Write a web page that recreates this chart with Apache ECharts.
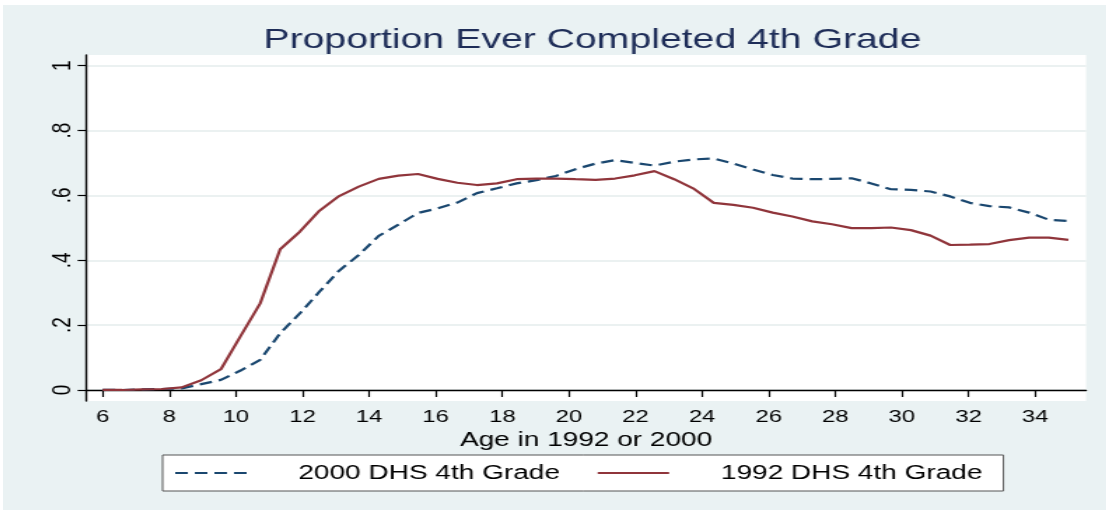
<!DOCTYPE html>
<html>
<head>
<meta charset="utf-8">
<title>Proportion Ever Completed 4th Grade</title>
<script src="https://cdn.jsdelivr.net/npm/echarts@6/dist/echarts.min.js"></script>
<style>
    body { margin: 0; background: #ffffff; }
    /* the reference graph is stretched sideways, so draw narrow and scale */
    #main { position: absolute; left: 3px; top: 5px; width: 788px; height: 505px;
            transform: scaleX(1.4); transform-origin: 0 0; }
</style>
</head>
<body>
<div id="main"></div>
<script type="text/javascript">
    // age of respondent (x)
    var ages = [6.00, 6.59, 7.18, 7.78, 8.37, 8.96, 9.55, 10.14, 10.73, 11.33,
                11.92, 12.51, 13.10, 13.69, 14.29, 14.88, 15.47, 16.06, 16.65, 17.24,
                17.84, 18.43, 19.02, 19.61, 20.20, 20.80, 21.39, 21.98, 22.57, 23.16,
                23.76, 24.35, 24.94, 25.53, 26.12, 26.71, 27.31, 27.90, 28.49, 29.08,
                29.67, 30.27, 30.86, 31.45, 32.04, 32.63, 33.22, 33.82, 34.41, 35.00];

    // 2000 DHS 4th Grade (dashed)
    var dhs2000 = [0.000, 0.000, 0.002, 0.003, 0.005, 0.018, 0.031, 0.060, 0.093, 0.175,
                   0.236, 0.303, 0.368, 0.416, 0.475, 0.510, 0.546, 0.560, 0.578, 0.607,
                   0.622, 0.637, 0.647, 0.660, 0.681, 0.698, 0.709, 0.700, 0.692, 0.704,
                   0.711, 0.714, 0.698, 0.680, 0.663, 0.652, 0.650, 0.651, 0.653, 0.637,
                   0.619, 0.617, 0.612, 0.597, 0.577, 0.567, 0.563, 0.547, 0.525, 0.521];

    // 1992 DHS 4th Grade (solid)
    var dhs1992 = [0.000, 0.000, 0.002, 0.003, 0.008, 0.030, 0.064, 0.166, 0.267, 0.434,
                   0.488, 0.553, 0.598, 0.627, 0.651, 0.661, 0.666, 0.651, 0.639, 0.632,
                   0.637, 0.650, 0.652, 0.652, 0.650, 0.648, 0.652, 0.662, 0.675, 0.650,
                   0.620, 0.577, 0.571, 0.562, 0.547, 0.535, 0.520, 0.511, 0.499, 0.499,
                   0.501, 0.493, 0.476, 0.447, 0.448, 0.450, 0.462, 0.470, 0.470, 0.463];

    var xTicks = [6, 8, 10, 12, 14, 16, 18, 20, 22, 24, 26, 28, 30, 32, 34];
    var yTicks = [0, 0.2, 0.4, 0.6, 0.8, 1];

    var font = 'Liberation Sans, Arial, sans-serif';

    function pairs(vals) {
        var out = [];
        for (var i = 0; i < ages.length; i++) {
            out.push([ages[i], vals[i]]);
        }
        return out;
    }

    var myChart = echarts.init(document.getElementById('main'));

    var option = {
        backgroundColor: '#eaf2f3',
        animation: false,
        title: {
            text: 'Proportion Ever Completed 4th Grade',
            left: 416, top: 16, textAlign: 'center',
            textStyle: { color: '#1e2d58', fontFamily: font, fontSize: 28, fontWeight: 'normal' }
        },
        legend: {
            left: 114, top: 450,
            backgroundColor: '#ffffff',
            borderColor: '#555555', borderWidth: 1,
            padding: [8, 15, 8, 8],
            itemWidth: 51, itemHeight: 14, itemGap: 26,
            itemStyle: { opacity: 0 },
            textStyle: { color: '#000000', fontFamily: font, fontSize: 20, padding: [0, 0, 0, 32] },
            data: ['2000 DHS 4th Grade', '1992 DHS 4th Grade']
        },
        grid: { left: 59.3, right: 14.4, top: 50, bottom: 109, containLabel: false,
                show: true, backgroundColor: '#ffffff', borderWidth: 0 },
        xAxis: {
            type: 'value', min: 5.5, max: 35.53,
            name: 'Age in 1992 or 2000', nameLocation: 'middle', nameGap: 29,
            nameTextStyle: { color: '#000000', fontFamily: font, fontSize: 20 },
            axisLine: { lineStyle: { color: '#000000', width: 1.4 } },
            axisTick: { customValues: xTicks, length: 7, lineStyle: { color: '#000000', width: 1.2 } },
            axisLabel: { customValues: xTicks, margin: 8, color: '#000000', fontFamily: font, fontSize: 17 },
            splitLine: { show: false }
        },
        yAxis: {
            type: 'value', min: -0.034, max: 1.033,
            axisLine: { show: true, lineStyle: { color: '#000000', width: 1.4 } },
            axisTick: { show: true, customValues: yTicks, length: 6, lineStyle: { color: '#000000', width: 1.2 } },
            axisLabel: {
                customValues: yTicks, rotate: 90, margin: 7,
                color: '#000000', fontFamily: font, fontSize: 19,
                formatter: function (v) { return String(v).replace(/^0\./, '.'); }
            },
            splitLine: { show: true, lineStyle: { color: '#e4eced', width: 1.5 } }
        },
        series: [
            {
                name: '2000 DHS 4th Grade', type: 'line', symbol: 'none',
                lineStyle: { color: '#1a476f', width: 2.2, type: [9, 5] },
                itemStyle: { color: '#1a476f' },
                data: pairs(dhs2000)
            },
            {
                name: '1992 DHS 4th Grade', type: 'line', symbol: 'none',
                lineStyle: { color: '#90353b', width: 2.2 },
                itemStyle: { color: '#90353b' },
                data: pairs(dhs1992)
            }
        ]
    };

    myChart.setOption(option);
</script>
</body>
</html>
